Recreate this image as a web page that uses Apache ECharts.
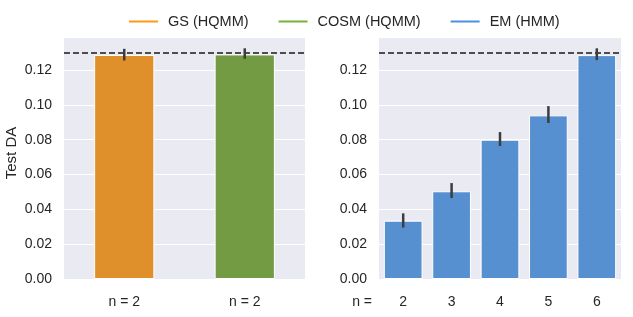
<!DOCTYPE html>
<html>
<head>
<meta charset="utf-8">
<script src="https://cdn.jsdelivr.net/npm/echarts@6/dist/echarts.min.js"></script>
<style>
html,body{margin:0;padding:0;background:#fff;}
#c{width:633px;height:317px;}
</style>
</head>
<body>
<div id="c"></div>
<script>
// ---- data ----
var leftCategories = ["GS", "COSM"];
var leftTickLabels = ["n = 2", "n = 2"];
var gsValue = 0.1287, gsLow = 0.1255, gsHigh = 0.1322;
var cosmValue = 0.1290, cosmLow = 0.1265, cosmHigh = 0.1325;

var rightCategories = ["2", "3", "4", "5", "6"];
var emValues = [0.0335, 0.0504, 0.0800, 0.0940, 0.1286];
var emLow    = [0.0295, 0.0465, 0.0764, 0.0896, 0.1257];
var emHigh   = [0.0377, 0.0551, 0.0844, 0.0993, 0.1325];

var referenceLine = 0.13;
var seriesNames = ["GS (HQMM)", "COSM (HQMM)", "EM (HMM)"];

// ---- styles ----
var FONT = "Liberation Sans, Arial, sans-serif";
var TXT = "#262626";
var barColors = ["#e0902a", "#739b43", "#5790d0"];
var legendColors = ["#ff9812", "#78b23a", "#4a90e2"];
var errColor = "#3d3d3d";

function errRender(params, api) {
  var x = api.value(0);
  var p1 = api.coord([x, api.value(1)]);
  var p2 = api.coord([x, api.value(2)]);
  return {
    type: "line",
    shape: { x1: p1[0], y1: p1[1], x2: p2[0], y2: p2[1] },
    style: { stroke: errColor, lineWidth: 2.5 }
  };
}

function yAxisCfg(gridIndex, withName) {
  return {
    type: "value", gridIndex: gridIndex, min: 0, max: 0.139, interval: 0.02,
    name: withName ? "Test DA" : "", nameLocation: "middle", nameGap: 45,
    nameTextStyle: { fontFamily: FONT, fontSize: 15, color: TXT, padding: [0, 0, 0, 10] },
    axisLine: { show: false }, axisTick: { show: false },
    axisLabel: { fontFamily: FONT, fontSize: 14, color: TXT, margin: 12, showMaxLabel: false,
      formatter: function (v) { return v.toFixed(2); } },
    splitLine: { show: true, lineStyle: { color: "#ffffff", width: 1 } }
  };
}

var gsData = [gsValue, "-"];
var cosmData = ["-", cosmValue];

var errLeft = [[0, gsLow, gsHigh], [1, cosmLow, cosmHigh]];
var errRight = emValues.map(function (v, i) { return [i, emLow[i], emHigh[i]]; });

var option = {
  animation: false,
  backgroundColor: "#ffffff",
  textStyle: { fontFamily: FONT },
  legend: {
    top: 9, left: 122, itemGap: 28, itemWidth: 31, itemHeight: 4, icon: "rect",
    textStyle: { fontFamily: FONT, fontSize: 14.5, color: TXT, padding: [0, 0, 0, 4] },
    data: seriesNames.map(function (n, i) { return { name: n, itemStyle: { color: legendColors[i], opacity: 1 } }; })
  },
  grid: [
    { left: 64, right: 328, top: 37, bottom: 38, show: true, backgroundColor: "#eaeaf2", borderWidth: 0 },
    { left: 379, right: 12, top: 37, bottom: 38, show: true, backgroundColor: "#eaeaf2", borderWidth: 0 }
  ],
  xAxis: [
    { type: "category", gridIndex: 0, data: leftCategories,
      axisLine: { show: false }, axisTick: { show: false },
      axisLabel: { fontFamily: FONT, fontSize: 14, color: TXT, margin: 16,
        formatter: function (v, i) { return leftTickLabels[i]; } },
      splitLine: { show: false } },
    { type: "category", gridIndex: 1, data: rightCategories,
      name: "n =", nameLocation: "start", nameGap: 7,
      nameTextStyle: { fontFamily: FONT, fontSize: 14, color: TXT, verticalAlign: "top", padding: [16, 0, 0, 0] },
      axisLine: { show: false }, axisTick: { show: false },
      axisLabel: { fontFamily: FONT, fontSize: 14, color: TXT, margin: 16 },
      splitLine: { show: false } }
  ],
  yAxis: [yAxisCfg(0, true), yAxisCfg(1, false)],
  series: [
    { name: seriesNames[0], type: "bar", xAxisIndex: 0, yAxisIndex: 0, stack: "l", barWidth: "50%",
      data: gsData, itemStyle: { color: barColors[0], borderColor: "#fff", borderWidth: 1 },
      markLine: { silent: true, symbol: "none", label: { show: false },
        lineStyle: { color: "#1a1a1a", type: [6, 3], width: 1.5 },
        data: [{ yAxis: referenceLine }] } },
    { name: seriesNames[1], type: "bar", xAxisIndex: 0, yAxisIndex: 0, stack: "l", barWidth: "50%",
      data: cosmData, itemStyle: { color: barColors[1], borderColor: "#fff", borderWidth: 1 } },
    { name: seriesNames[2], type: "bar", xAxisIndex: 1, yAxisIndex: 1, barWidth: "80%",
      data: emValues, itemStyle: { color: barColors[2], borderColor: "#fff", borderWidth: 1 },
      markLine: { silent: true, symbol: "none", label: { show: false },
        lineStyle: { color: "#1a1a1a", type: [6, 3], width: 1.5 },
        data: [{ yAxis: referenceLine }] } },
    { type: "custom", xAxisIndex: 0, yAxisIndex: 0, renderItem: errRender, data: errLeft, z: 10 },
    { type: "custom", xAxisIndex: 1, yAxisIndex: 1, renderItem: errRender, data: errRight, z: 10 }
  ]
};

var chart = echarts.init(document.getElementById("c"), null, { renderer: "canvas" });
chart.setOption(option);
</script>
</body>
</html>
